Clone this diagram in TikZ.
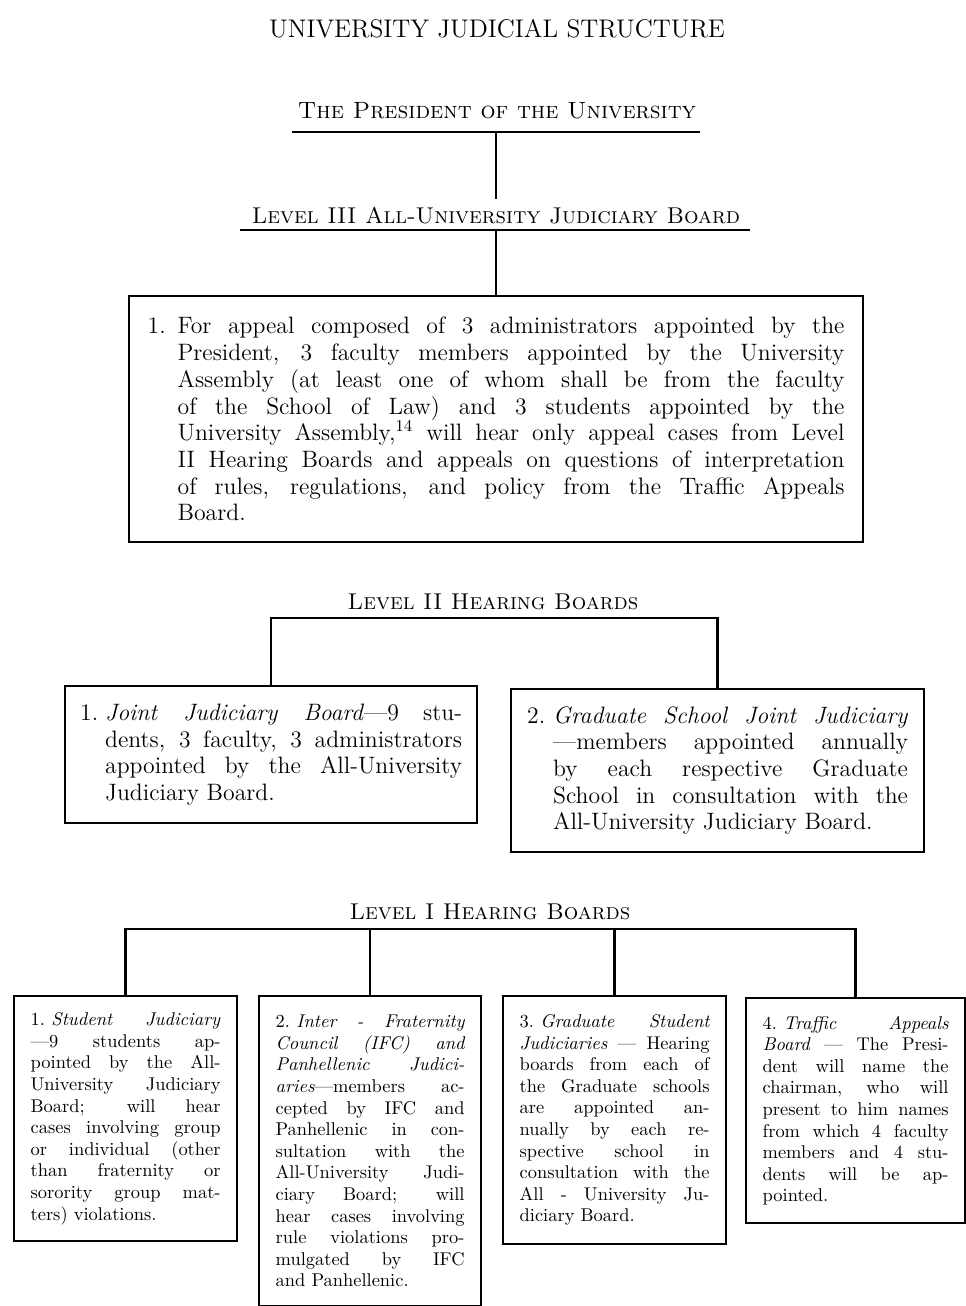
\documentclass[tikz,border=0pt]{standalone}
\usetikzlibrary{positioning}

\begin{document}
\begin{tikzpicture}[
  x=0.02cm, y=-0.02cm,
  heading/.style={inner sep=0pt, anchor=base, font=\fontsize{13}{15}\selectfont},
  board/.style={
    draw, line width=1.3pt, anchor=north west, inner xsep=0.37cm, inner ysep=0pt,
    font=\fontsize{13.5}{15.2}\selectfont
  },
  smallboard/.style={
    board, align=justify, inner xsep=0.33cm, text width=3.8cm,
    font=\fontsize{10.5}{12.3}\selectfont
  },
  link/.style={draw=black, line width=1.3pt},
]
\useasboundingbox (0,0) rectangle (966,1306);

% headings
\node[heading, font=\fontsize{14.5}{17}\selectfont] (title) at (497,37) {UNIVERSITY JUDICIAL STRUCTURE};
\node[heading, font=\fontsize{13.4}{15}\selectfont] (pres) at (497,118) {\textsc{The President of the University}};
\node[heading] (aub) at (496,223) {\textsc{Level III All-University Judiciary Board}};
\node[heading] (lvl2) at (493,609) {\textsc{Level II Hearing Boards}};
\node[heading] (lvl1) at (490,919) {\textsc{Level I Hearing Boards}};

% level III board
\node[board, minimum height=4.92cm] (appeal) at (128,295) {%
\begin{minipage}{13.94cm}
\noindent\hangindent=0.6cm\hangafter=1\makebox[0.6cm][l]{1.}For appeal composed of 3 administrators appointed by the\linebreak
President, 3 faculty members appointed by the University\linebreak
Assembly (at least one of whom shall be from the faculty\linebreak
of the School of Law) and 3 students appointed by the\linebreak
University Assembly,\textsuperscript{14} will hear only appeal cases from Level\linebreak
II Hearing Boards and appeals on questions of interpretation\linebreak
of rules, regulations, and policy from the Traffic Appeals\linebreak
Board.
\end{minipage}};

% level II boards
\node[board, inner xsep=0.3cm, minimum height=2.74cm] (jjb) at (64,685) {%
\begin{minipage}{7.64cm}
\noindent\hangindent=0.5cm\hangafter=1\makebox[0.5cm][l]{1.}\textit{Joint Judiciary Board}\textemdash 9 stu-\linebreak
dents, 3 faculty, 3 administrators\linebreak
appointed by the All-University\linebreak
Judiciary Board.
\end{minipage}};
\node[board, inner xsep=0.32cm, minimum height=3.26cm] (gsjj) at (510,688) {%
\begin{minipage}{7.62cm}
\noindent\hangindent=0.52cm\hangafter=1\makebox[0.52cm][l]{2.}\textit{Graduate School Joint Judiciary}\linebreak
\textemdash members appointed annually\linebreak
by each respective Graduate\linebreak
School in consultation with the\linebreak
All-University Judiciary Board.
\end{minipage}};

% level I boards
\node[smallboard, minimum height=4.9cm] (sj) at (13,995) {%
1.\hspace{0.35em}\textit{Student Judiciary}\linebreak
\textemdash 9 students ap-\linebreak
pointed by the All-\linebreak
University Judiciary\linebreak
Board; will hear\linebreak
cases involving group\linebreak
or individual (other\linebreak
than fraternity or\linebreak
sorority group mat-\linebreak
ters) violations.};
\node[smallboard, text width=3.78cm, minimum height=6.2cm] (ifc) at (258,995) {%
2.\hspace{0.35em}\textit{Inter - Fraternity\linebreak
Council (IFC) and\linebreak
Panhellenic Judici-\linebreak
aries}\textemdash members ac-\linebreak
cepted by IFC and\linebreak
Panhellenic in con-\linebreak
sultation with the\linebreak
All-University Judi-\linebreak
ciary Board; will\linebreak
hear cases involving\linebreak
rule violations pro-\linebreak
mulgated by IFC\linebreak
and Panhellenic.};
\node[smallboard, minimum height=4.96cm] (gsj) at (502,995) {%
3.\hspace{0.35em}\textit{Graduate Student\linebreak
Judiciaries} \textemdash\ Hearing\linebreak
boards from each of\linebreak
the Graduate schools\linebreak
are appointed an-\linebreak
nually by each re-\linebreak
spective school in\linebreak
consultation with the\linebreak
All - University Ju-\linebreak
diciary Board.};
\node[smallboard, text width=3.72cm, minimum height=4.5cm] (tab) at (745,997) {%
4.\hspace{0.35em}\textit{Traffic Appeals\linebreak
Board} \textemdash\ The Presi-\linebreak
dent will name the\linebreak
chairman, who will\linebreak
present to him names\linebreak
from which 4 faculty\linebreak
members and 4 stu-\linebreak
dents will be ap-\linebreak
pointed.};

% rules under the top headings
\coordinate (presL) at (292,132);
\coordinate (presR) at (700,132);
\coordinate (aubL) at (240,230);
\coordinate (aubR) at (750,230);
\draw[link] (presL) -- (presR);
\draw[link] (aubL) -- (aubR);

% connectors
\coordinate (lvl2bar) at (495,618);
\coordinate (lvl1bar) at (495,929);
\draw[link] (presL -| appeal.north) -- ([yshift=4pt]aub.north -| appeal.north);
\draw[link] (aubL -| appeal.north) -- (appeal.north);
\draw[link] (jjb.north) |- (lvl2bar) -| (gsjj.north);
\draw[link] (sj.north) |- (lvl1bar) -| (tab.north);
\draw[link] (ifc.north) -- (ifc.north |- lvl1bar);
\draw[link] (gsj.north) -- (gsj.north |- lvl1bar);

\end{tikzpicture}
\end{document}
